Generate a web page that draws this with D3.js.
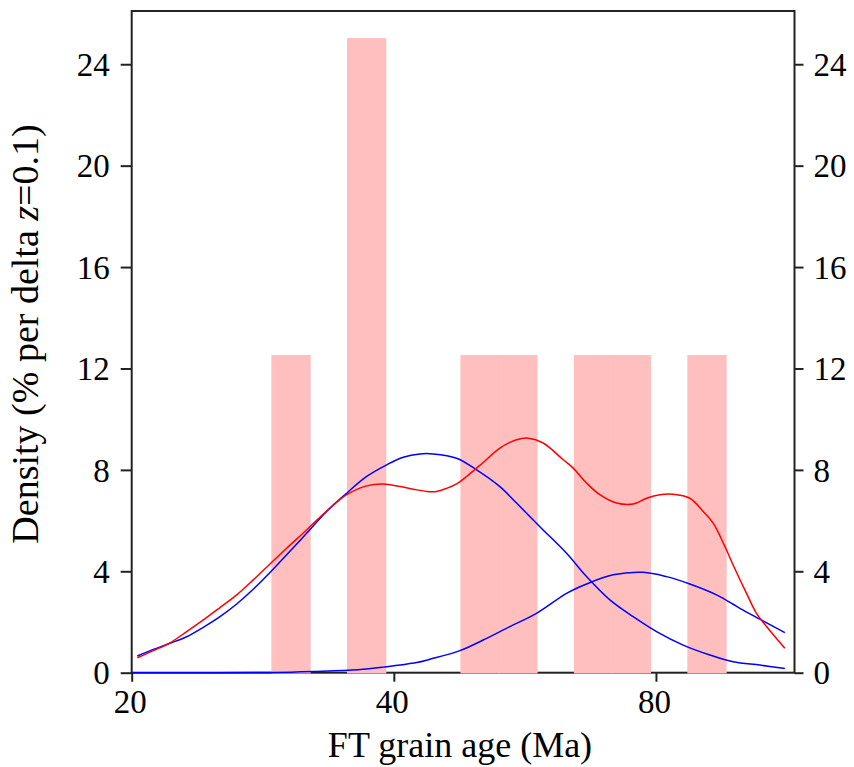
<!DOCTYPE html>
<html>
<head>
<meta charset="utf-8">
<script src="https://cdn.jsdelivr.net/npm/d3@7/dist/d3.min.js"></script>
<style>
  html, body { margin: 0; padding: 0; background: #fff; }
  svg { display: block; }
</style>
</head>
<body>
<svg id="chart" width="854" height="767"></svg>
<script>
// Histogram of grain ages: bins of equal width in z = ln(age)
const binZ0 = 3.367;          // lower edge of first bin, ln(Ma)
const binDz = 0.1;            // bin width in z
const binDensity = [12.5, 0, 25, 0, 0, 12.5, 12.5, 0, 12.5, 12.5, 0, 12.5];

// Kernel density estimate of all grains (red)
const kdeAge = [20.3, 21.18, 22.13, 23.13, 24.17, 25.26, 26.4, 27.58, 28.83, 30.13, 31.76, 33.49,
  35.31, 37.23, 38.9, 40.65, 42.1, 43.62, 44.79, 45.99, 47.22, 48.49, 50.66, 52.95, 55.34,
  57.06, 59.37, 62.6, 64.27, 66.59, 68.97, 72.09, 75.32, 78.03, 80.83, 83.72, 87.5, 90.64,
  93.07, 95.99, 98.11, 101.65, 104.37, 107.17, 112.49];
const kdeDensity = [0.59, 0.87, 1.18, 1.62, 2.08, 2.57, 3.07, 3.66, 4.29, 4.91, 5.63, 6.38,
  7.02, 7.37, 7.44, 7.34, 7.24, 7.15, 7.15, 7.27, 7.45, 7.74, 8.29, 8.86, 9.19,
  9.25, 9.06, 8.4, 8.07, 7.48, 7.02, 6.69, 6.65, 6.88, 7.02, 7.04, 6.88, 6.36,
  5.9, 4.98, 4.25, 3.13, 2.34, 1.82, 0.96];

// Younger age component (blue)
const comp1Age = [20.3, 21.18, 22.13, 23.13, 24.17, 25.26, 26.4, 27.58, 28.83, 30.13, 31.76, 33.49,
  35.31, 37.23, 39.25, 41.01, 42.86, 44.39, 47.22, 49.79, 52.95, 55.34, 58.85, 63.16, 66.59,
  70.82, 75.32, 80.13, 85.96, 92.25, 98.11, 105.3, 112.49];
const comp1Density = [0.66, 0.92, 1.16, 1.42, 1.79, 2.21, 2.71, 3.29, 3.95, 4.65, 5.5, 6.36,
  7.08, 7.74, 8.2, 8.5, 8.63, 8.63, 8.46, 8.0, 7.34, 6.69, 5.76, 4.71, 3.79,
  2.87, 2.21, 1.62, 1.09, 0.7, 0.43, 0.3, 0.17];

// Older age component (blue)
const comp2Age = [20.05, 25.0, 29.0, 32.3, 36.4, 38.9, 42.49, 44.0, 47.64, 50.66, 54.37, 58.34,
  63.16, 66.59, 71.44, 77.34, 82.27, 87.5, 93.9, 99.87, 105.3, 112.49];
const comp2Density = [0, 0, 0.01, 0.05, 0.12, 0.22, 0.4, 0.53, 0.87, 1.29, 1.82, 2.34,
  3.13, 3.5, 3.86, 3.96, 3.79, 3.5, 3.07, 2.54, 2.11, 1.58];

const xTicks = [20, 40, 80];
const yTicks = [0, 4, 8, 12, 16, 20, 24];

const serif = '"Liberation Serif", "Times New Roman", Times, "DejaVu Serif", serif';

const svg = d3.select("#chart");
const plotLeft = 131.7, plotRight = 794.5, plotTop = 11, plotBottom = 672.7;

const x = d3.scaleLog().domain([20, 115.4]).range([plotLeft, plotRight]);
const y = d3.scaleLinear().domain([0, 26.1]).range([plotBottom, plotTop]);

const axisColor = "#222";
const tickFont = 33;

// Axes
const gLeft = svg.append("g").attr("transform", `translate(${plotLeft},0)`)
  .call(d3.axisLeft(y).tickValues(yTicks).tickSize(11).tickSizeOuter(0).tickPadding(11).tickFormat(d3.format("d")));
const gRight = svg.append("g").attr("transform", `translate(${plotRight},0)`)
  .call(d3.axisRight(y).tickValues(yTicks).tickSize(9).tickSizeOuter(0).tickPadding(10).tickFormat(d3.format("d")));
const gBottom = svg.append("g").attr("transform", `translate(0,${plotBottom})`)
  .call(d3.axisBottom(x).tickValues(xTicks).tickSize(9).tickSizeOuter(0).tickPadding(8).tickFormat(d3.format("d")));

[gLeft, gRight, gBottom].forEach(g => {
  g.attr("font-family", null).attr("font-size", null);
  g.selectAll("path.domain").remove();
  g.selectAll("line").attr("stroke", axisColor).attr("stroke-width", 2);
  g.selectAll("text")
    .style("font-family", serif)
    .style("font-size", tickFont + "px")
    .attr("fill", "#000");
});
gLeft.selectAll("text").attr("dy", "0.34em");
gRight.selectAll("text").attr("dy", "0.34em");
gBottom.selectAll("text").attr("dy", "0.72em").attr("dx", "-2");

// Plot frame
svg.append("rect")
  .attr("x", plotLeft).attr("y", plotTop)
  .attr("width", plotRight - plotLeft).attr("height", plotBottom - plotTop)
  .attr("fill", "none").attr("stroke", axisColor).attr("stroke-width", 2);

// Histogram bars (empty bins leave a thin pink line on the baseline)
svg.append("g").selectAll("rect")
  .data(binDensity)
  .join("rect")
  .attr("x", (d, i) => x(Math.exp(binZ0 + i * binDz)))
  .attr("width", (d, i) => x(Math.exp(binZ0 + (i + 1) * binDz)) - x(Math.exp(binZ0 + i * binDz)))
  .attr("y", d => y(d))
  .attr("height", d => y(0) - y(d))
  .attr("fill", "#ffbfbf")
  .attr("stroke", "#ffbfbf")
  .attr("stroke-width", 1.5);

// Density curves
const line = d3.line()
  .x(d => x(d[0]))
  .y(d => y(d[1]))
  .curve(d3.curveCatmullRom.alpha(0.5));

const curves = [
  { age: comp2Age, dens: comp2Density, color: "#0000ff" },
  { age: comp1Age, dens: comp1Density, color: "#0000ff" },
  { age: kdeAge, dens: kdeDensity, color: "#ff0000" }
];
curves.forEach(c => {
  svg.append("path")
    .datum(c.age.map((a, i) => [a, c.dens[i]]))
    .attr("d", line)
    .attr("fill", "none")
    .attr("stroke", c.color)
    .attr("stroke-width", 1.5);
});

// Axis titles
svg.append("text")
  .attr("x", 460).attr("y", 757)
  .attr("text-anchor", "middle")
  .style("font-family", serif)
  .style("font-size", "36px")
  .attr("fill", "#000")
  .text("FT grain age (Ma)");

const yTitle = svg.append("text")
  .attr("transform", "translate(38,334) rotate(-90)")
  .attr("text-anchor", "middle")
  .style("font-family", serif)
  .style("font-size", "38px")
  .attr("fill", "#000");
yTitle.append("tspan").text("Density (% per delta ");
yTitle.append("tspan").style("font-style", "italic").text("z");
yTitle.append("tspan").text("=0.1)");
</script>
</body>
</html>
